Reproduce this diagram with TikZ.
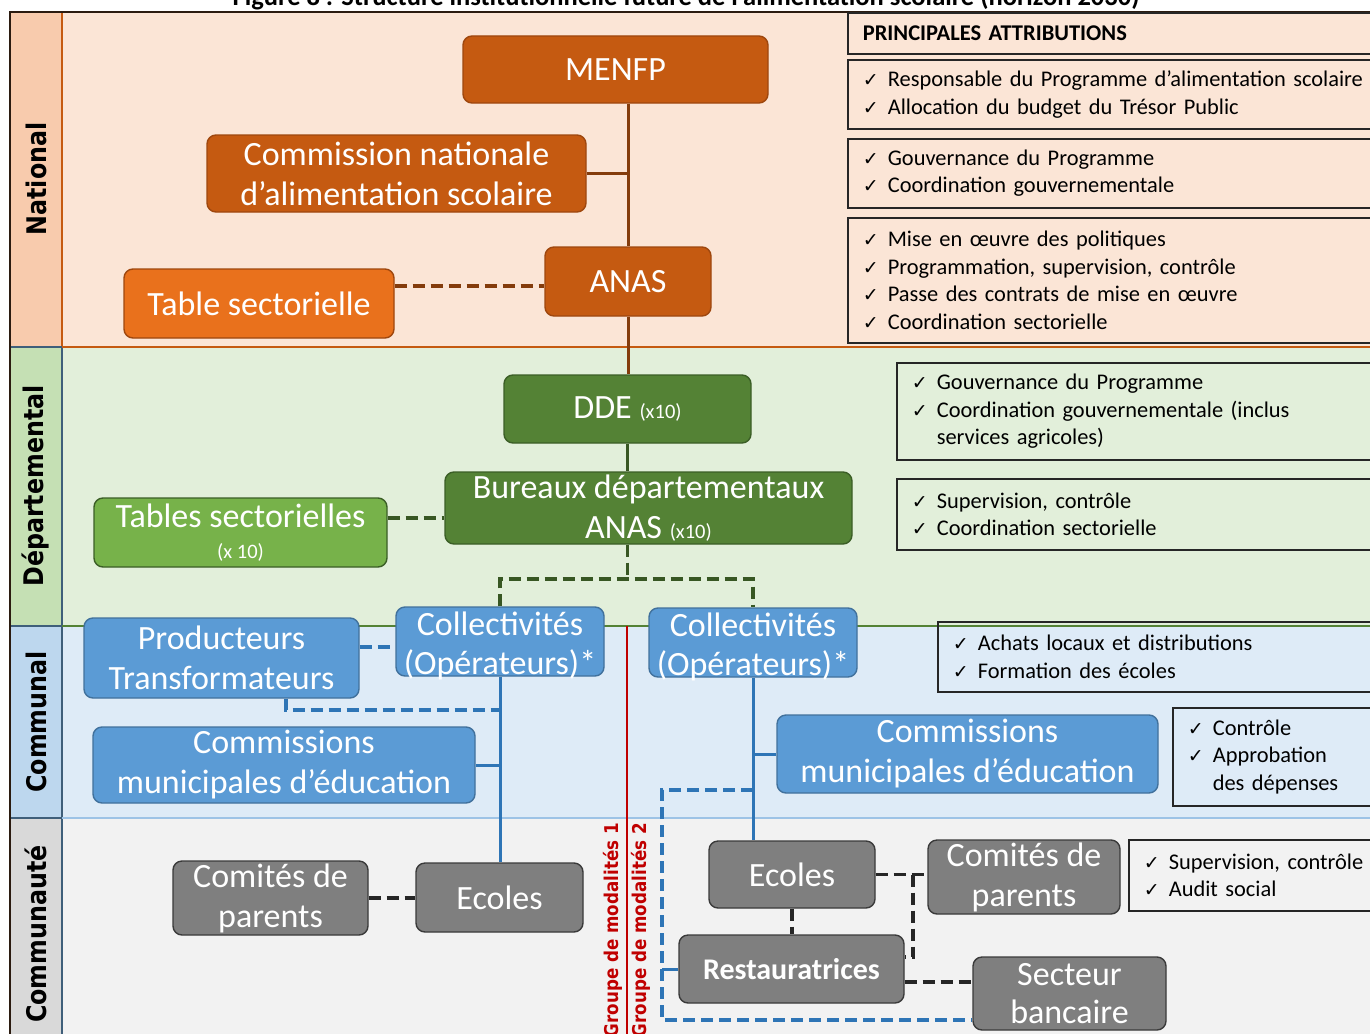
\documentclass[tikz,border=0pt]{standalone}
\usepackage{fontspec}
\setmainfont{Carlito}
\newfontfamily\bandfont[FakeStretch=0.88]{DejaVu Sans}
\newfontfamily\chkfont{DejaVu Sans}

\definecolor{natbg}{HTML}{FBE5D6}
\definecolor{natcell}{HTML}{F8CBAD}
\definecolor{natedge}{HTML}{C55A11}
\definecolor{depbg}{HTML}{E2EFDA}
\definecolor{depcell}{HTML}{C5E0B4}
\definecolor{depedge}{HTML}{548235}
\definecolor{combg}{HTML}{DEEBF7}
\definecolor{comcell}{HTML}{BDD7EE}
\definecolor{comedge}{HTML}{9DC3E6}
\definecolor{cmtbg}{HTML}{F2F2F2}
\definecolor{cmtcell}{HTML}{D9D9D9}
\definecolor{celledge}{HTML}{3F5F7A}
\definecolor{natnode}{HTML}{C55A11}
\definecolor{natline}{HTML}{9E470E}
\definecolor{tsnode}{HTML}{E9711C}
\definecolor{depnode}{HTML}{548235}
\definecolor{depline}{HTML}{3B5E26}
\definecolor{tdnode}{HTML}{77B24A}
\definecolor{comnode}{HTML}{5B9BD5}
\definecolor{comline}{HTML}{41719C}
\definecolor{cmtnode}{HTML}{7F7F7F}
\definecolor{cmtline}{HTML}{3A3A3A}
\definecolor{brnline}{HTML}{843C0C}
\definecolor{grnline}{HTML}{385723}
\definecolor{bluline}{HTML}{2E75B6}
\definecolor{dkline}{HTML}{262626}
\definecolor{modred}{HTML}{C00000}
\definecolor{frame}{HTML}{2B1B10}

\newcommand\bigtxt{\fontsize{34}{40}\selectfont}
\newcommand\smalltxt{\fontsize{20.5}{24}\selectfont}
\newcommand\attrtxt{\fontsize{22.4}{27.5}\selectfont}
\newcommand\chk{\makebox[25pt][l]{\chkfont\fontsize{19}{20}\selectfont ✓}}
\newcommand\duo[3][40pt]{\vbox to 0pt{\vss\baselineskip=#1\relax\halign{\hfil##\hfil\cr#2\cr#3\cr}\vss}}

\begin{document}
\begin{tikzpicture}[x=1pt,y=-1pt,
  box/.style={draw, rounded corners=9pt, line width=1.4pt, inner sep=0pt, text=white, font=\bigtxt},
  natbox/.style={box, fill=natnode, draw=natline},
  tsbox/.style={box, fill=tsnode, draw=natline},
  depbox/.style={box, fill=depnode, draw=depline},
  tdbox/.style={box, fill=tdnode, draw=depline},
  combox/.style={box, fill=comnode, draw=comline},
  cmtbox/.style={box, fill=cmtnode, draw=cmtline},
  attr/.style={draw=black!85, line width=1.6pt, anchor=north west, align=left, text width=520pt, inner xsep=15pt, inner ysep=0pt, font=\attrtxt},
  band/.style={rotate=90, font=\bandfont\bfseries\fontsize{27}{30}\selectfont},
  modal/.style={rotate=90, anchor=east, inner sep=0pt, text=modred, font=\bandfont\bfseries\fontsize{19}{24}\selectfont},
  brn/.style={draw=brnline, line width=3pt},
  brndash/.style={brn, line width=4pt, dash pattern=on 12pt off 6pt},
  grn/.style={draw=grnline, line width=3pt},
  grndash/.style={grn, line width=3.5pt, dash pattern=on 12pt off 6pt},
  blu/.style={draw=bluline, line width=3pt},
  bludash/.style={blu, line width=3.5pt, dash pattern=on 12pt off 6pt},
  dkdash/.style={draw=dkline, line width=3.5pt, dash pattern=on 12pt off 6pt},
  redline/.style={draw=modred, line width=2.5pt}]
\useasboundingbox (0,0) rectangle (1370,1033);

\fill[natbg] (62,12) rectangle (1380,347);
\fill[depbg] (62,347) rectangle (1380,626);
\fill[combg] (62,626) rectangle (1380,818);
\fill[cmtbg] (62,818) rectangle (1380,1040);
\draw[fill=natcell, draw=natedge, line width=1.2pt] (10,12) rectangle (62,347);
\draw[fill=depcell, draw=celledge, line width=1.2pt] (10,347) rectangle (62,626);
\draw[fill=comcell, draw=celledge, line width=1.2pt] (10,626) rectangle (62,818);
\draw[fill=cmtcell, draw=celledge, line width=1.2pt] (10,818) rectangle (62,1040);
\draw[natedge, line width=1.5pt] (62,347) -- (1380,347);
\draw[depedge, line width=1.2pt] (62,626) -- (1380,626);
\draw[comedge, line width=1.2pt] (62,818) -- (1380,818);
\draw[frame, line width=2pt] (10,1040) -- (10,12) -- (1380,12);

\node[font=\bfseries\fontsize{26.5}{30}\selectfont, anchor=base] (title) at (686,6) {Figure 8 : Structure institutionnelle future de l’alimentation scolaire (horizon 2030)};

\node[band] (lnat) at (36,179) {National};
\node[band] (ldep) at (36,486) {Départemental};
\node[band] (lcom) at (36,722) {Communal};
\node[band] (lcmt) at (36,934) {Communauté};

\node[natbox, minimum width=305, minimum height=67] (menfp) at (615.5,69.5) {MENFP};
\node[natbox, minimum width=379, minimum height=77] (cnas) at (396.5,173.5) {\duo{Commission nationale}{d’alimentation scolaire}};
\node[natbox, minimum width=166, minimum height=69] (anas) at (628,281.5) {ANAS};
\node[tsbox, minimum width=270, minimum height=69] (tsnat) at (259,303.5) {Table sectorielle};

\node[depbox, minimum width=247, minimum height=68] (dde) at (627.5,409) {DDE {\smalltxt(x10)}};
\node[depbox, minimum width=407, minimum height=72] (bdx) at (648.5,508) {\duo{Bureaux départementaux}{ANAS {\smalltxt(x10)}}};
\node[tdbox, minimum width=293, minimum height=69] (tsdep) at (240.5,532.5) {\duo[31pt]{Tables sectorielles}{\smalltxt(x 10)}};

\node[combox, minimum width=208, minimum height=69] (coll1) at (500,641.5) {\raisebox{-4pt}[0pt][0pt]{\duo[39pt]{Collectivités}{(Opérateurs)*}}};
\node[combox, minimum width=208, minimum height=69] (coll2) at (753,642.5) {\raisebox{-4pt}[0pt][0pt]{\duo[39pt]{Collectivités}{(Opérateurs)*}}};
\node[combox, minimum width=275, minimum height=80] (prod) at (221.5,658) {\duo{Producteurs}{Transformateurs}};
\node[combox, minimum width=382, minimum height=76] (cme1) at (284,765) {\duo{Commissions}{municipales d’éducation}};
\node[combox, minimum width=381, minimum height=78] (cme2) at (967.5,754) {\duo{Commissions}{municipales d’éducation}};

\node[cmtbox, minimum width=195, minimum height=74] (cp1) at (270.5,898) {\duo{Comités de}{parents}};
\node[cmtbox, minimum width=167, minimum height=69] (ecol1) at (499.5,897.5) {Ecoles};
\node[cmtbox, minimum width=166, minimum height=67] (ecol2) at (792,874.5) {Ecoles};
\node[cmtbox, minimum width=192, minimum height=74] (cp2) at (1024,877) {\duo{Comités de}{parents}};
\node[cmtbox, minimum width=225, minimum height=68, font=\bfseries\fontsize{30}{36}\selectfont] (rest) at (791.5,969) {Restauratrices};
\node[cmtbox, minimum width=193, minimum height=73] (sb) at (1069.5,993.5) {\duo[38pt]{Secteur}{bancaire}};

\node[attr, minimum height=41, font=\bfseries\fontsize{22.5}{24}\selectfont] (hdr) at (847,12) {PRINCIPALES ATTRIBUTIONS};
\node[attr, minimum height=69] (att1) at (847,59) {\chk Responsable du Programme d’alimentation scolaire\\\chk Allocation du budget du Trésor Public};
\node[attr, minimum height=69] (att2) at (847,138) {\chk Gouvernance du Programme\\\chk Coordination gouvernementale};
\node[attr, minimum height=125] (att3) at (847,217) {\chk Mise en œuvre des politiques\\\chk Programmation, supervision, contrôle\\\chk Passe des contrats de mise en œuvre\\\chk Coordination sectorielle};
\node[attr, minimum height=97] (att4) at (896,362) {\chk Gouvernance du Programme\\\chk Coordination gouvernementale (inclus\\\hspace*{25pt}services agricoles)};
\node[attr, minimum height=71] (att5) at (896,478) {\chk Supervision, contrôle\\\chk Coordination sectorielle};
\node[attr, minimum height=70] (att6) at (937,621) {\chk Achats locaux et distributions\\\chk Formation des écoles};
\node[attr, minimum height=98] (att7) at (1172,707) {\chk Contrôle\\\chk Approbation\\\hspace*{25pt}des dépenses};
\node[attr, minimum height=71] (att8) at (1128,839) {\chk Supervision, contrôle\\\chk Audit social};

\draw[brn] (menfp.south -| anas.north) -- (anas.north);
\draw[brn] (cnas.east) -- (cnas.east -| anas.north);
\draw[brn] (anas.south) -- (anas.south |- dde.north);
\draw[brndash] (tsnat.east |- 0,286) -- (anas.west |- 0,286);

\draw[grn] (dde.south) -- (dde.south |- bdx.north);
\draw[grndash] (tsdep.east |- 0,518) -- (bdx.west |- 0,518);
\coordinate (jd) at (dde.south |- 0,579);
\draw[grndash] (dde.south |- bdx.south) -- (jd);
\draw[grndash] (coll1.north) |- (jd) -| (coll2.north);

\draw[blu] (coll1.south) -- (coll1.south |- ecol1.north);
\draw[blu] (cme1.east) -- (cme1.east -| coll1.south);
\coordinate (jp) at (coll1.south |- 0,710);
\draw[bludash] ([xshift=64.5pt]prod.south) |- (jp);
\draw[bludash] (prod.east |- 0,647) -- (coll1.west |- 0,647);
\draw[blu] (coll2.south) -- (coll2.south |- ecol2.north);
\draw[blu] (cme2.west) -- (cme2.west -| coll2.south);
\coordinate (jb) at (coll2.south |- 0,790);
\coordinate (lb) at (662,1020);
\draw[bludash] (jb) -| (lb) -- (lb -| sb.west);
\draw[blu] (rest.west) -- (rest.west -| lb);

\draw[dkdash] (cp1.east) -- (cp1.east -| ecol1.west);
\draw[dkdash] (ecol2.east) -- (ecol2.east -| cp2.west);
\coordinate (jc) at (ecol2.east -| 913,0);
\draw[dkdash] (jc) |- ([yshift=12pt]rest.east);
\draw[dkdash] (ecol2.south) -- (ecol2.south |- rest.north);
\draw[dkdash] ([yshift=-13pt]rest.east) -- ([yshift=-13pt]rest.east -| sb.west);

\draw[redline] (627,626) -- (627,1040);
\node[modal] (grp1) at (612.5,823) {Groupe de modalités 1};
\node[modal] (grp2) at (640.5,823) {Groupe de modalités 2};
\end{tikzpicture}
\end{document}
